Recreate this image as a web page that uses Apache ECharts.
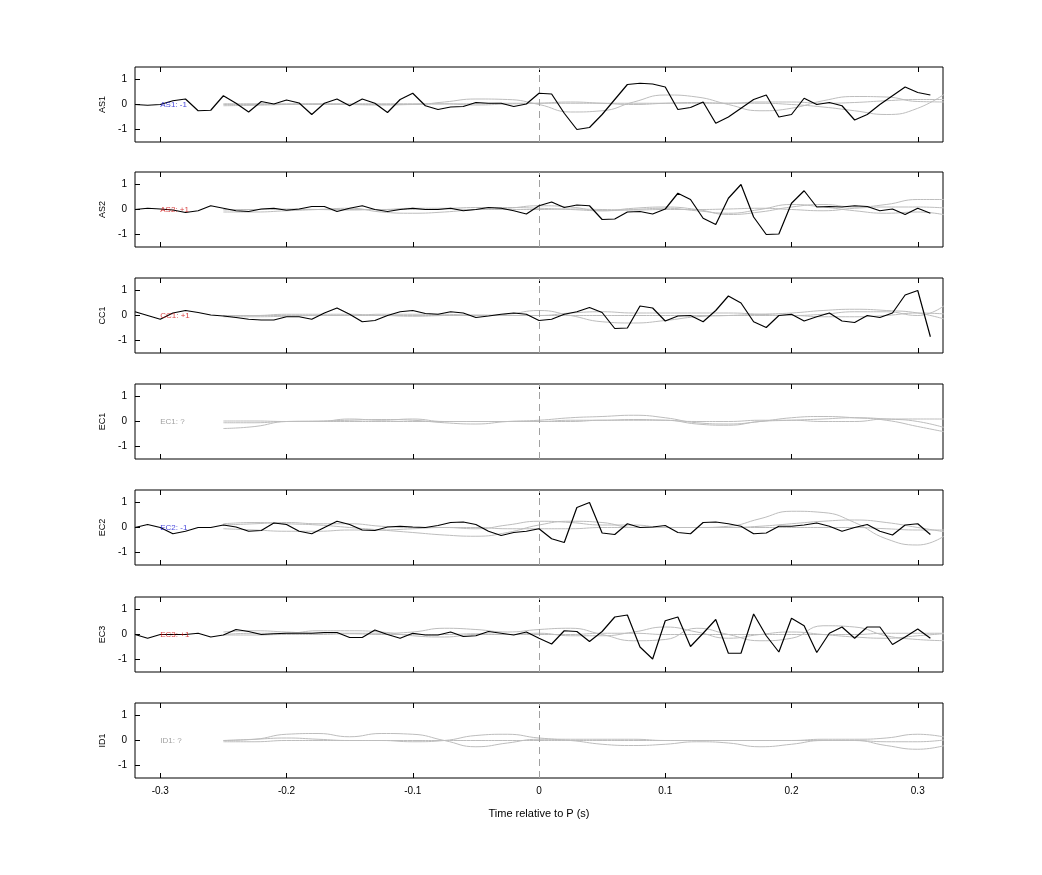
<!DOCTYPE html>
<html>
<head>
<meta charset="utf-8">
<script src="https://cdn.jsdelivr.net/npm/echarts@6/dist/echarts.min.js"></script>
<style>html,body{margin:0;padding:0;background:#fff}#main{width:1042px;height:875px}</style>
</head>
<body>
<div id="main"></div>
<script>
// stations, top to bottom
var stations = ['AS1', 'AS2', 'CC1', 'EC1', 'EC2', 'EC3', 'ID1'];
var tags = ['AS1: -1', 'AS2: +1', 'CC1: +1', 'EC1: ?', 'EC2: -1', 'EC3: +1', 'ID1: ?'];
var tagColors = ['#1010d0', '#d01010', '#d01010', '#888888', '#1010d0', '#d01010', '#888888'];
var xTicks = [-0.3, -0.2, -0.1, 0, 0.1, 0.2, 0.3];
var yTicks = [-1, 0, 1];

// black traces, sampled -0.32 .. 0.31 every 0.01 s
var blackStart = -0.32, blackStep = 0.01;
var blackAS1 = [0,-0.03,0,0.15,0.22,-0.25,-0.23,0.35,0.05,-0.3,0.12,0.02,0.18,0.06,-0.4,0.05,0.22,-0.05,0.22,0.05,-0.32,0.2,0.45,-0.05,-0.2,-0.1,-0.08,0.08,0.05,0.05,-0.08,0.02,
  0.45,0.42,-0.35,-1.0,-0.92,-0.4,0.2,0.8,0.85,0.82,0.7,-0.2,-0.12,0.1,-0.75,-0.5,-0.15,0.2,0.38,-0.5,-0.4,0.25,0,0.08,-0.05,-0.62,-0.4,0,0.35,0.7,0.48,0.38];
var blackAS2 = [0,0.05,0.02,-0.02,-0.12,-0.05,0.15,0.05,-0.05,-0.08,0.02,0.05,-0.03,0.02,0.12,0.12,-0.08,0.05,0.15,0,-0.08,0,0.05,0,0,0.05,-0.05,0,0.08,0.05,-0.05,-0.18,
  0.15,0.3,0.08,0.18,0.15,-0.4,-0.38,-0.1,-0.08,-0.18,0.02,0.65,0.4,-0.35,-0.6,0.45,1.0,-0.3,-1.0,-0.98,0.25,0.75,0.1,0.12,0.1,0.15,0.12,-0.05,0.02,-0.2,0.05,-0.15];
var blackCC1 = [0.15,0,-0.15,0.1,0.2,0.12,0.02,-0.02,-0.08,-0.15,-0.18,-0.18,-0.05,-0.05,-0.15,0.1,0.3,0.05,-0.25,-0.2,0,0.15,0.2,0.08,0.05,0.15,0.1,-0.08,-0.02,0.05,0.1,0.05,
  -0.2,-0.15,0.05,0.15,0.32,0.12,-0.52,-0.5,0.38,0.3,-0.22,-0.02,0,-0.25,0.2,0.78,0.5,-0.25,-0.48,0,0.05,-0.22,-0.05,0.1,-0.22,-0.28,0,-0.08,0.1,0.82,1.0,-0.85];
var blackEC2 = [0,0.12,0,-0.25,-0.15,0,0,0.1,0.02,-0.15,-0.12,0.18,0.12,-0.15,-0.25,0,0.25,0.12,-0.1,-0.12,0.02,0.05,0.02,0,0.08,0.2,0.22,0.12,-0.15,-0.32,-0.2,-0.15,
  -0.05,-0.45,-0.6,0.8,1.0,-0.22,-0.28,0.15,0,0.02,0.08,-0.2,-0.25,0.2,0.22,0.15,0.05,-0.25,-0.22,0.05,0.05,0.1,0.18,0.05,-0.15,0,0.12,-0.15,-0.3,0.1,0.15,-0.28];
var blackEC3 = [0,-0.15,0,0,0,0.05,-0.1,-0.02,0.2,0.12,0,0.03,0.05,0.05,0.05,0.08,0.08,-0.12,-0.12,0.18,0,-0.15,0.05,-0.02,-0.02,0.1,-0.08,-0.05,0.12,0.05,-0.02,0.1,
  -0.15,-0.38,0.15,0.12,-0.28,0.12,0.7,0.78,-0.5,-0.98,0.55,0.7,-0.48,0.05,0.6,-0.75,-0.75,0.82,-0.05,-0.7,0.65,0.35,-0.72,0.05,0.3,-0.15,0.3,0.3,-0.4,-0.1,0.22,-0.15];
var blackTraces = [blackAS1, blackAS2, blackCC1, null, blackEC2, blackEC3, null];

// grey traces, sampled -0.25 .. 0.325 every 0.025 s
var greyStart = -0.25, greyStep = 0.025;
var greyAS1 = [
  [0,0,0,0,0,0,0,0.1,0.22,0.2,0,-0.3,-0.25,0.1,0.38,0.3,0,-0.25,-0.15,0.15,0.32,0.3,0.12,0.1],
  [0.03,0.03,0.03,0.03,0.03,0.03,0.03,0.03,0.03,0.05,0.05,0.05,0.05,0.05,0.05,0.05,0.05,0.05,0,-0.1,-0.25,-0.4,-0.15,0.55],
  [-0.05,-0.03,0,0.02,0,-0.02,0,0.02,-0.02,0.02,0.05,0.1,0.05,0,0.05,0.08,0.05,0.1,0.1,0.05,0.08,0.15,0.2,0.2]];
var greyAS2 = [
  [-0.1,-0.1,-0.05,0,0.05,-0.1,-0.15,-0.1,0,0.05,0.15,0.1,-0.05,0.05,0.1,0,-0.2,-0.1,0.1,0.2,0.1,0.2,0.4,0.4],
  [0,0,0,0,0,0,0.05,0.05,0.08,0.08,0.05,0,-0.05,0,0.05,-0.05,-0.15,0,0.2,0.1,-0.05,-0.15,-0.1,-0.25],
  [-0.02,0,0.02,0,-0.02,0,0,0.02,0,0,0,0.02,0,-0.02,0,0,0.02,0.05,0,-0.05,0.05,0.1,0.1,0.05]];
var greyCC1 = [
  [0,0,0.05,0.05,0.05,0,0,0,0,0.05,0.2,0,-0.25,-0.3,-0.2,-0.05,0,0.05,0.1,0.2,0.25,0.2,0.1,-0.2],
  [0,0,0,0,0,0.05,0.05,0.05,0,0,0,0.1,0.15,0.1,0.1,0.1,0.1,0.05,0,0.05,0.15,0.15,0,0.55],
  [-0.05,-0.05,-0.03,0,0,0,-0.03,0,0.02,0,0,0,0,0,0,0,0,0,0,-0.05,-0.05,0,0.1,0.05]];
var greyEC1 = [
  [-0.28,-0.2,0,0.02,0.05,0.08,0.05,-0.05,-0.1,0,0.05,0.15,0.2,0.25,0.15,-0.05,-0.1,0,0.15,0.2,0.15,0.05,-0.2,-0.45],
  [-0.05,-0.05,0,0,0,0,0,0,0,0,0,0,0.05,0.05,0.05,-0.1,-0.15,0,0.05,0.1,0.15,0.1,0,-0.3],
  [0.02,0.02,0,0,0.1,0.05,0.1,0,0,0,0,0.05,0.05,0.08,0.05,0,0,0.05,0.05,0,0,0.1,0.1,0.1]];
var greyEC2 = [
  [0.15,0.2,0.15,0.1,0,-0.1,-0.2,-0.3,-0.35,-0.2,0.1,0.25,0.2,0,0,0,0.05,0.35,0.65,0.6,0.2,-0.45,-0.7,-0.2],
  [0.1,0.15,0.2,0.15,0.15,0.05,0,0,-0.05,0.1,0.25,0.2,0.1,0.1,0,0,0,0.05,0.15,0.25,0.3,0.2,0,-0.2],
  [-0.05,-0.1,-0.15,-0.15,-0.1,-0.1,-0.05,0,0,-0.05,-0.05,-0.05,0,0,0,0,0,0,0,0,0,-0.05,-0.1,-0.1]];
var greyEC3 = [
  [0.1,0.15,0.1,0.05,0.05,0.05,0.1,0.25,0.2,0.1,0.2,0.25,0,-0.25,-0.2,0.25,0,-0.25,-0.15,0.35,0.3,-0.05,-0.2,-0.25],
  [0,0.05,0.05,0.15,0.15,0.1,-0.05,-0.1,0,0,0.05,-0.05,-0.05,0.1,0.3,0.1,-0.15,0,0.1,0,-0.1,-0.15,-0.05,0.05],
  [-0.02,-0.02,0,0,0.03,0,0,0,0.03,0,0,0,0.05,0.05,0,0,0,0,0,0,0,0.05,0.05,0.05]];
var greyID1 = [
  [0,0.05,0.25,0.28,0.15,0.28,0.25,0,-0.25,-0.1,0.05,0,-0.15,-0.2,-0.15,-0.05,-0.1,-0.25,-0.15,0,0,-0.2,-0.35,-0.15],
  [0,0.05,0.1,0.05,0,0,-0.05,0,0.2,0.25,0.1,0.05,0.05,0.05,0,0,0,0,0,0.05,0.05,0.1,0.25,0.1],
  [-0.05,-0.05,0,0,0,0,0,0,0,0,0,0,0,0,0,0,0,0,0,0,0,-0.05,-0.05,0.05]];
var greyTraces = [greyAS1, greyAS2, greyCC1, greyEC1, greyEC2, greyEC3, greyID1];

function pairs(arr, start, step) {
  return arr.map(function (v, i) { return [+(start + i * step).toFixed(4), v]; });
}

var chart = echarts.init(document.getElementById('main'));
var tops = [67, 172, 278, 384, 490, 597, 703];
var grid = [], xAxis = [], yAxis = [], series = [];
var font = 'Liberation Sans';

for (var k = 0; k < stations.length; k++) {
  var last = k === stations.length - 1;
  grid.push({left: 135, width: 808, top: tops[k], height: 75, show: true, borderColor: '#000', borderWidth: 1});
  xAxis.push({
    type: 'value', gridIndex: k, min: -0.32, max: 0.32, position: 'bottom',
    axisLine: {show: false, onZero: false}, splitLine: {show: false},
    axisTick: {inside: true, length: 5, customValues: xTicks, lineStyle: {color: '#000'}},
    axisLabel: {show: last, customValues: xTicks, color: '#000', fontSize: 10, fontFamily: font, margin: 8},
    name: last ? 'Time relative to P (s)' : '', nameLocation: 'middle', nameGap: 30,
    nameTextStyle: {color: '#000', fontSize: 11, fontFamily: font}
  });
  xAxis.push({
    type: 'value', gridIndex: k, min: -0.32, max: 0.32, position: 'top',
    axisLine: {show: false, onZero: false}, splitLine: {show: false}, axisLabel: {show: false},
    axisTick: {inside: true, length: 5, customValues: xTicks, lineStyle: {color: '#000'}}
  });
  yAxis.push({
    type: 'value', gridIndex: k, min: -1.5, max: 1.5, position: 'left',
    axisLine: {show: false, onZero: false}, splitLine: {show: false},
    axisTick: {show: true, inside: true, length: 5, customValues: yTicks, lineStyle: {color: '#000'}},
    axisLabel: {customValues: yTicks, color: '#000', fontSize: 10, fontFamily: font, margin: 8},
    name: stations[k], nameLocation: 'middle', nameGap: 26, nameRotate: 90,
    nameTextStyle: {color: '#000', fontSize: 9, fontFamily: font}
  });
  greyTraces[k].forEach(function (g) {
    series.push({type: 'line', xAxisIndex: 2 * k, yAxisIndex: k, data: pairs(g, greyStart, greyStep),
      smooth: 0.5, showSymbol: false, silent: true, lineStyle: {color: '#bdbdbd', width: 1}});
  });
  if (blackTraces[k]) {
    series.push({type: 'line', xAxisIndex: 2 * k, yAxisIndex: k, data: pairs(blackTraces[k], blackStart, blackStep),
      showSymbol: false, silent: true, lineStyle: {color: '#000', width: 1.2}, z: 5});
  }
  // P arrival marker and station tag
  series.push({type: 'scatter', xAxisIndex: 2 * k, yAxisIndex: k, data: [[-0.3, 0]], symbolSize: 0, z: 6,
    label: {show: true, position: 'right', distance: 0, formatter: tags[k], color: tagColors[k], fontSize: 8, fontFamily: font},
    markLine: {silent: true, symbol: 'none', label: {show: false},
      lineStyle: {color: '#a0a0a0', type: [7, 5], width: 1}, data: [{xAxis: 0}]}});
}

chart.setOption({animation: false, grid: grid, xAxis: xAxis, yAxis: yAxis, series: series});
</script>
</body>
</html>
